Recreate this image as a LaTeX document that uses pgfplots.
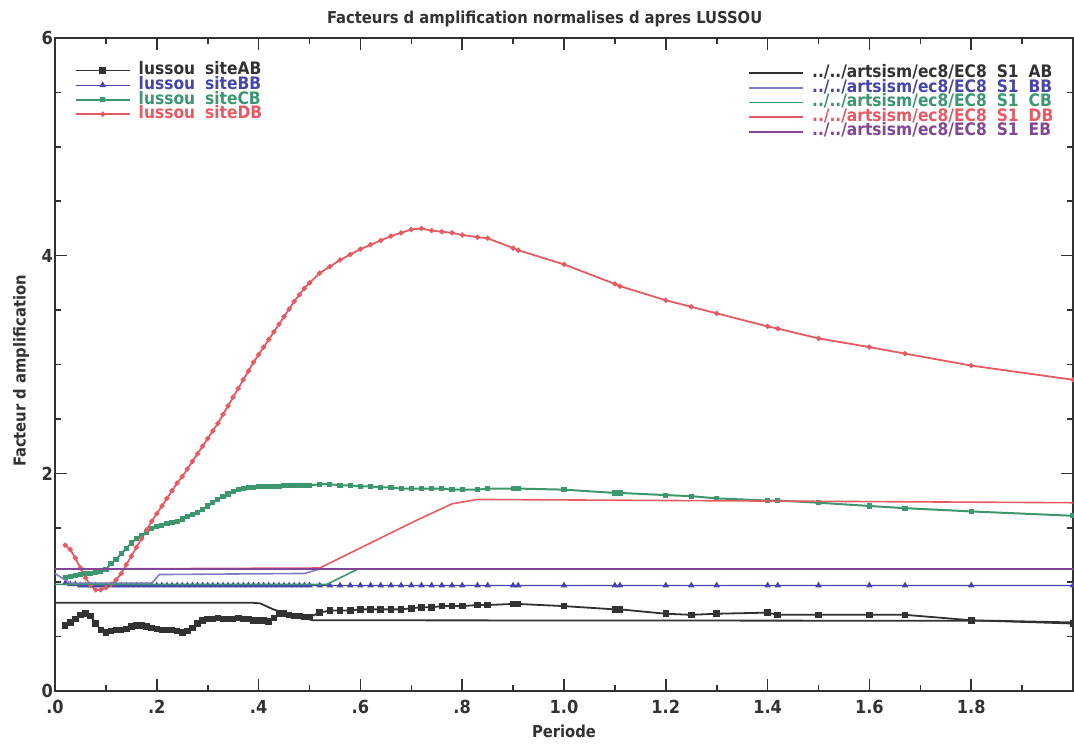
\documentclass[border=0pt]{standalone}
\usepackage{fontspec}
\setmainfont{DejaVu Sans Condensed}
\usepackage{pgfplots}
\pgfplotsset{compat=1.18}
\definecolor{blk}{RGB}{50,50,50}
\definecolor{blu}{RGB}{70,70,170}
\definecolor{grn}{RGB}{60,150,110}
\definecolor{rd}{RGB}{230,90,100}
\definecolor{pur}{RGB}{130,70,150}
\begin{document}
\begin{tikzpicture}
\pgfplotsset{
  myaxis/.style={scale only axis, width=509pt, height=326.5pt,
    xmin=0, xmax=2, ymin=0, ymax=6},
  legend image code/.code={\draw[mark repeat=2,mark phase=2,#1] plot coordinates {(0pt,0pt) (13.5pt,0pt) (27pt,0pt)};},
  mylegend/.style={draw=none, fill=none,
    font=\fontsize{8.6}{9}\selectfont\bfseries, inner sep=0pt,
    nodes={inner sep=0.5pt, text height=5.3pt, text depth=1pt},
    /tikz/every odd column/.append style={column sep=3.5pt}},
}
\begin{axis}[myaxis, name=main,
  tick pos=both, tick align=inside,
  xtick={0,0.2,0.4,0.6,0.8,1.0,1.2,1.4,1.6,1.8},
  xticklabels={.0,.2,.4,.6,.8,1.0,1.2,1.4,1.6,1.8},
  minor xtick={0.1,0.3,0.5,0.7,0.9,1.1,1.3,1.5,1.7,1.9},
  ytick={0,2,4,6}, yticklabels={0,2,4,6},
  minor ytick={0.5,1,1.5,2.5,3,3.5,4.5,5,5.5},
  major tick length=6pt, minor tick length=3pt,
  axis line style={line width=1pt, blk},
  every tick/.style={line width=0.8pt, blk},
  ticklabel style={font=\fontsize{9}{10}\selectfont\bfseries, blk},
  xticklabel style={yshift=-1.2pt},
  yticklabel style={xshift=2.5pt},
  title={Facteurs d amplification normalises d apres LUSSOU},
  title style={font=\fontsize{8.2}{9}\selectfont\bfseries, blk, at={(axis description cs:0.481,1)}, anchor=base, yshift=1.5pt},
  xlabel={Periode},
  xlabel style={font=\fontsize{8.2}{9}\selectfont\bfseries, blk, at={(axis description cs:0.5,0)}, anchor=center, yshift=-20pt},
  ylabel={Facteur d amplification},
  ylabel style={font=\fontsize{8.2}{9}\selectfont\bfseries, blk, at={(axis description cs:0,0.49)}, anchor=center, yshift=17pt},
  legend style={mylegend, at={(0.019,0.962)}, anchor=north west},
  legend cell align=left,
]
% lussou siteAB (black)
\addplot[blk, line width=0.9pt, mark=square*, mark size=1.2pt] coordinates {
(0.02,0.60)(0.03,0.63)(0.04,0.66)(0.05,0.70)(0.06,0.71)(0.07,0.69)(0.08,0.62)(0.09,0.56)(0.10,0.54)
(0.11,0.55)(0.12,0.56)(0.13,0.56)(0.14,0.57)(0.15,0.59)(0.16,0.60)(0.17,0.60)(0.18,0.59)(0.19,0.58)(0.20,0.57)
(0.21,0.56)(0.22,0.56)(0.23,0.56)(0.24,0.55)(0.25,0.54)(0.26,0.55)(0.27,0.58)(0.28,0.62)(0.29,0.65)(0.30,0.66)
(0.31,0.66)(0.32,0.67)(0.33,0.66)(0.34,0.66)(0.35,0.66)(0.36,0.67)(0.37,0.66)(0.38,0.66)(0.39,0.65)(0.40,0.65)
(0.41,0.65)(0.42,0.64)(0.43,0.67)(0.44,0.71)(0.45,0.71)(0.46,0.70)(0.47,0.69)(0.48,0.69)(0.49,0.68)(0.50,0.68)
(0.52,0.72)(0.54,0.74)(0.56,0.74)(0.58,0.74)(0.60,0.75)(0.62,0.75)(0.64,0.75)(0.66,0.75)(0.68,0.75)(0.70,0.76)
(0.72,0.77)(0.74,0.77)(0.76,0.78)(0.78,0.78)(0.80,0.78)(0.83,0.79)(0.85,0.79)(0.90,0.80)(0.91,0.80)
(1.00,0.78)(1.10,0.75)(1.11,0.75)(1.20,0.71)(1.25,0.70)(1.30,0.71)(1.40,0.72)(1.42,0.70)(1.50,0.70)
(1.60,0.70)(1.67,0.70)(1.80,0.65)(2.00,0.62)};
\addlegendentry{\textcolor{blk}{lussou\hspace{5pt}siteAB}}
% lussou siteBB (blue)
\addplot[blu, line width=0.6pt, mark=triangle*, mark size=1.3pt] coordinates {
(0.02,0.99)(0.03,0.98)(0.04,0.98)(0.05,0.97)(0.06,0.97)(0.07,0.97)(0.08,0.97)(0.09,0.97)(0.10,0.97)
(0.11,0.97)(0.12,0.97)(0.13,0.97)(0.14,0.97)(0.15,0.97)(0.16,0.97)(0.17,0.97)(0.18,0.97)(0.19,0.97)(0.20,0.97)
(0.21,0.97)(0.22,0.97)(0.23,0.97)(0.24,0.97)(0.25,0.97)(0.26,0.97)(0.27,0.97)(0.28,0.97)(0.29,0.97)(0.30,0.97)
(0.31,0.97)(0.32,0.97)(0.33,0.97)(0.34,0.97)(0.35,0.97)(0.36,0.97)(0.37,0.97)(0.38,0.97)(0.39,0.97)(0.40,0.97)
(0.41,0.97)(0.42,0.97)(0.43,0.97)(0.44,0.97)(0.45,0.97)(0.46,0.97)(0.47,0.97)(0.48,0.97)(0.49,0.97)(0.50,0.97)
(0.52,0.97)(0.54,0.97)(0.56,0.97)(0.58,0.97)(0.60,0.97)(0.62,0.97)(0.64,0.97)(0.66,0.97)(0.68,0.97)(0.70,0.97)
(0.72,0.97)(0.74,0.97)(0.76,0.97)(0.78,0.97)(0.80,0.97)(0.83,0.97)(0.85,0.97)(0.90,0.97)(0.91,0.97)
(1.00,0.97)(1.10,0.97)(1.11,0.97)(1.20,0.97)(1.25,0.97)(1.30,0.97)(1.40,0.97)(1.42,0.97)(1.50,0.97)
(1.60,0.97)(1.67,0.97)(1.80,0.97)(2.00,0.97)};
\addlegendentry{\textcolor{blu}{lussou\hspace{5pt}siteBB}}
% lussou siteCB (green)
\addplot[grn, line width=1pt, mark=square*, mark size=0.8pt] coordinates {
(0.02,1.04)(0.03,1.05)(0.04,1.06)(0.05,1.07)(0.06,1.08)(0.07,1.08)(0.08,1.09)(0.09,1.10)(0.10,1.12)
(0.11,1.17)(0.12,1.21)(0.13,1.26)(0.14,1.31)(0.15,1.36)(0.16,1.40)(0.17,1.43)(0.18,1.46)(0.19,1.49)(0.20,1.51)
(0.21,1.52)(0.22,1.54)(0.23,1.55)(0.24,1.56)(0.25,1.58)(0.26,1.60)(0.27,1.62)(0.28,1.64)(0.29,1.67)(0.30,1.70)
(0.31,1.73)(0.32,1.76)(0.33,1.79)(0.34,1.81)(0.35,1.83)(0.36,1.85)(0.37,1.86)(0.38,1.87)(0.39,1.87)(0.40,1.88)
(0.41,1.88)(0.42,1.88)(0.43,1.88)(0.44,1.88)(0.45,1.89)(0.46,1.89)(0.47,1.89)(0.48,1.89)(0.49,1.89)(0.50,1.89)
(0.52,1.90)(0.54,1.90)(0.56,1.89)(0.58,1.89)(0.60,1.88)(0.62,1.88)(0.64,1.87)(0.66,1.87)(0.68,1.86)(0.70,1.86)
(0.72,1.86)(0.74,1.86)(0.76,1.86)(0.78,1.85)(0.80,1.85)(0.83,1.85)(0.85,1.86)(0.90,1.86)(0.91,1.86)
(1.00,1.85)(1.10,1.82)(1.11,1.82)(1.20,1.80)(1.25,1.79)(1.30,1.77)(1.40,1.75)(1.42,1.75)(1.50,1.73)
(1.60,1.70)(1.67,1.68)(1.80,1.65)(2.00,1.61)};
\addlegendentry{\textcolor{grn}{lussou\hspace{5pt}siteCB}}
% lussou siteDB (red)
\addplot[rd, line width=0.9pt, mark=*, mark size=0.8pt] coordinates {
(0.02,1.34)(0.03,1.30)(0.04,1.22)(0.05,1.13)(0.06,1.04)(0.07,0.97)(0.08,0.93)(0.09,0.93)(0.10,0.95)
(0.11,0.98)(0.12,1.02)(0.13,1.08)(0.14,1.16)(0.15,1.24)(0.16,1.32)(0.17,1.40)(0.18,1.48)(0.19,1.56)(0.20,1.63)
(0.21,1.70)(0.22,1.77)(0.23,1.84)(0.24,1.91)(0.25,1.97)(0.26,2.04)(0.27,2.11)(0.28,2.18)(0.29,2.25)(0.30,2.32)
(0.31,2.39)(0.32,2.46)(0.33,2.54)(0.34,2.62)(0.35,2.70)(0.36,2.78)(0.37,2.86)(0.38,2.94)(0.39,3.02)(0.40,3.09)
(0.41,3.16)(0.42,3.23)(0.43,3.30)(0.44,3.37)(0.45,3.44)(0.46,3.51)(0.47,3.58)(0.48,3.64)(0.49,3.70)(0.50,3.75)
(0.52,3.84)(0.54,3.90)(0.56,3.96)(0.58,4.01)(0.60,4.06)(0.62,4.10)(0.64,4.14)(0.66,4.18)(0.68,4.21)(0.70,4.24)
(0.72,4.25)(0.74,4.23)(0.76,4.22)(0.78,4.21)(0.80,4.19)(0.83,4.17)(0.85,4.16)(0.90,4.07)(0.91,4.05)
(1.00,3.92)(1.10,3.74)(1.11,3.72)(1.20,3.59)(1.25,3.53)(1.30,3.47)(1.40,3.35)(1.42,3.33)(1.50,3.24)
(1.60,3.16)(1.67,3.10)(1.80,2.99)(2.00,2.86)};
\addlegendentry{\textcolor{rd}{lussou\hspace{5pt}siteDB}}
\end{axis}
\begin{axis}[myaxis, hide axis,
  legend style={mylegend, at={(0.982,0.958)}, anchor=north east},
  legend cell align=left,
]
\addplot[blk, line width=0.9pt] coordinates {(0,0.81)(0.39,0.81)(0.403,0.805)(0.429,0.75)(0.468,0.69)(0.507,0.65)(1.85,0.645)(2.0,0.63)};
\addlegendentry{\textcolor{blk}{../../artsism/ec8/EC8\hspace{5pt}S1\hspace{5pt}AB}}
\addplot[blu!70, line width=0.8pt] coordinates {(0,1.08)(0.03,0.99)(0.19,0.99)(0.205,1.07)(0.49,1.08)(0.52,1.12)(2.0,1.12)};
\addlegendentry{\textcolor{blu}{../../artsism/ec8/EC8\hspace{5pt}S1\hspace{5pt}BB}}
\addplot[grn, line width=0.8pt] coordinates {(0,0.98)(0.534,0.98)(0.595,1.12)(2.0,1.12)};
\addlegendentry{\textcolor{grn}{../../artsism/ec8/EC8\hspace{5pt}S1\hspace{5pt}CB}}
\addplot[rd, line width=0.8pt] coordinates {(0,1.12)(0.52,1.13)(0.711,1.57)(0.78,1.72)(0.83,1.76)(2.0,1.73)};
\addlegendentry{\textcolor{rd}{../../artsism/ec8/EC8\hspace{5pt}S1\hspace{5pt}DB}}
\addplot[pur, line width=1pt] coordinates {(0,1.125)(2.0,1.125)};
\addlegendentry{\textcolor{pur}{../../artsism/ec8/EC8\hspace{5pt}S1\hspace{5pt}EB}}
\end{axis}
\pgfresetboundingbox
\useasboundingbox ([xshift=-27.5pt,yshift=-26.5pt]main.south west) rectangle ([xshift=0.5pt,yshift=19pt]main.north east);
\end{tikzpicture}
\end{document}
